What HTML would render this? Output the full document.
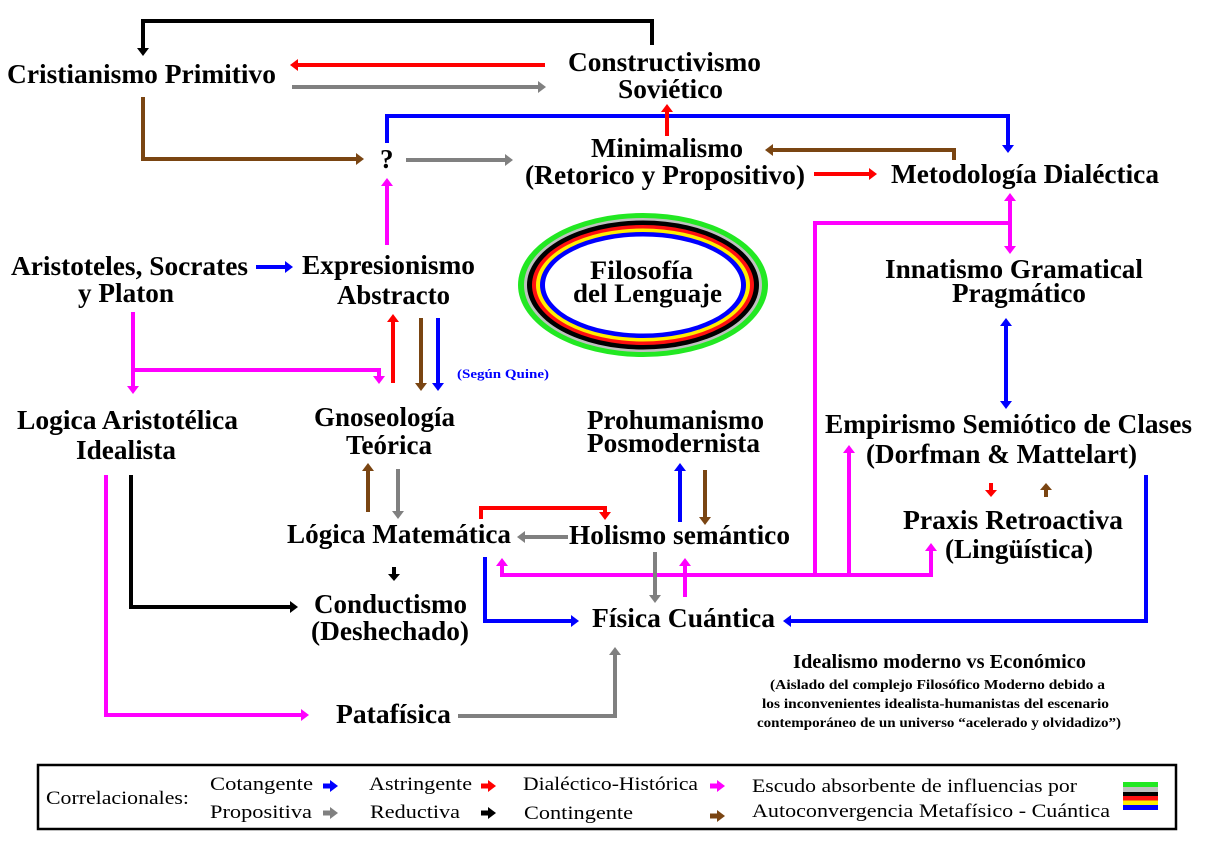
<!DOCTYPE html>
<html>
<head>
<meta charset="utf-8">
<style>
  html, body { margin: 0; padding: 0; background: #fff; }
  svg { display: block; }
  .t { font-family: "Liberation Serif", "Times New Roman", Times, serif; font-weight: bold; font-size: 27px; fill: #000; }
  .s { font-family: "Liberation Serif", "Times New Roman", Times, serif; font-weight: bold; font-size: 14px; fill: #000; }
  .lg { font-family: "Liberation Serif", "Times New Roman", Times, serif; font-weight: normal; font-size: 19px; fill: #000; }
  .ln { fill: none; stroke-width: 4; stroke-linejoin: miter; stroke-linecap: butt; }
</style>
</head>
<body>
<svg width="1213" height="864" viewBox="0 0 1213 864" xmlns="http://www.w3.org/2000/svg">
<rect x="0" y="0" width="1213" height="864" fill="#fff"/>

<!-- Ellipse shield -->
<ellipse cx="643" cy="285" rx="125" ry="72" fill="#22e822"/>
<ellipse cx="643" cy="285" rx="119" ry="67" fill="#c0c0c0"/>
<ellipse cx="643" cy="285" rx="116" ry="64.5" fill="#000"/>
<ellipse cx="643" cy="285" rx="111" ry="60" fill="#ff1010"/>
<ellipse cx="643" cy="285" rx="107" ry="56.5" fill="#ffee00"/>
<ellipse cx="643" cy="285" rx="103" ry="53" fill="#0000ff"/>
<ellipse cx="643" cy="285" rx="98" ry="48.5" fill="#fff"/>

<!-- ===== Connectors ===== -->
<polyline class="ln" stroke="#000" points="652,45 652,21 143,21 143,49"/>
<polygon fill="#000" points="143,56 137,48 149,48"/>
<line class="ln" stroke="#f00" x1="545" y1="65" x2="297" y2="65"/>
<polygon fill="#f00" points="290,65 298,59 298,71"/>
<line class="ln" stroke="#808080" x1="292" y1="87" x2="539" y2="87"/>
<polygon fill="#808080" points="546,87 538,81 538,93"/>
<polyline class="ln" stroke="#00f" points="387,143 387,116 1008,116 1008,146"/>
<polygon fill="#00f" points="1008,153 1002,145 1014,145"/>
<line class="ln" stroke="#f00" x1="667" y1="136" x2="667" y2="111"/>
<polygon fill="#f00" points="667,104 661,112 673,112"/>
<polyline class="ln" stroke="#7a4512" points="143,97 143,159 357,159"/>
<polygon fill="#7a4512" points="364,159 356,153 356,165"/>
<line class="ln" stroke="#808080" x1="406" y1="160" x2="506" y2="160"/>
<polygon fill="#808080" points="513,160 505,154 505,166"/>
<polyline class="ln" stroke="#7a4512" points="954,160 954,150 772,150"/>
<polygon fill="#7a4512" points="765,150 773,144 773,156"/>
<line class="ln" stroke="#f00" x1="814" y1="174" x2="870" y2="174"/>
<polygon fill="#f00" points="877,174 869,168 869,180"/>
<line class="ln" stroke="#f0f" x1="387" y1="245" x2="387" y2="185"/>
<polygon fill="#f0f" points="387,178 381,186 393,186"/>
<line class="ln" stroke="#00f" x1="256" y1="267" x2="286" y2="267"/>
<polygon fill="#00f" points="293,267 285,261 285,273"/>
<line class="ln" stroke="#f0f" x1="1010" y1="200" x2="1010" y2="247"/>
<polygon fill="#f0f" points="1010,193 1004,201 1016,201"/>
<polygon fill="#f0f" points="1010,254 1004,246 1016,246"/>
<polyline class="ln" stroke="#f0f" points="1010,223 815,223 815,577"/>
<line class="ln" stroke="#00f" x1="1006" y1="325" x2="1006" y2="402"/>
<polygon fill="#00f" points="1006,318 1000,326 1012,326"/>
<polygon fill="#00f" points="1006,409 1000,401 1012,401"/>
<line class="ln" stroke="#f0f" x1="133" y1="312" x2="133" y2="387"/>
<polygon fill="#f0f" points="133,394 127,386 139,386"/>
<polyline class="ln" stroke="#f0f" points="133,370 379,370 379,377"/>
<polygon fill="#f0f" points="379,384 373,376 385,376"/>
<line class="ln" stroke="#f00" x1="393" y1="383" x2="393" y2="321"/>
<polygon fill="#f00" points="393,314 387,322 399,322"/>
<line class="ln" stroke="#7a4512" x1="421" y1="318" x2="421" y2="384"/>
<polygon fill="#7a4512" points="421,391 415,383 427,383"/>
<line class="ln" stroke="#00f" x1="438" y1="318" x2="438" y2="384"/>
<polygon fill="#00f" points="438,391 432,383 444,383"/>
<line class="ln" stroke="#7a4512" x1="368" y1="512" x2="368" y2="470"/>
<polygon fill="#7a4512" points="368,463 362,471 374,471"/>
<line class="ln" stroke="#808080" x1="398" y1="469" x2="398" y2="512"/>
<polygon fill="#808080" points="398,519 392,511 404,511"/>
<polyline class="ln" stroke="#f00" points="481,519 481,508 605,508 605,513"/>
<polygon fill="#f00" points="605,520 599,512 611,512"/>
<line class="ln" stroke="#808080" x1="568" y1="537" x2="524" y2="537"/>
<polygon fill="#808080" points="517,537 525,531 525,543"/>
<line class="ln" stroke="#00f" x1="680" y1="522" x2="680" y2="470"/>
<polygon fill="#00f" points="680,463 674,471 686,471"/>
<line class="ln" stroke="#7a4512" x1="705" y1="470" x2="705" y2="518"/>
<polygon fill="#7a4512" points="705,525 699,517 711,517"/>
<line stroke="#000" stroke-width="4" x1="394" y1="567" x2="394" y2="575"/>
<polygon fill="#000" points="394,581 388,574 400,574"/>
<polyline class="ln" stroke="#000" points="131,475 131,607 291,607"/>
<polygon fill="#000" points="298,607 290,601 290,613"/>
<polyline class="ln" stroke="#f0f" points="106,475 106,715 302,715"/>
<polygon fill="#f0f" points="309,715 301,709 301,721"/>
<polyline class="ln" stroke="#00f" points="485,557 485,621 572,621"/>
<polygon fill="#00f" points="579,621 571,615 571,627"/>
<polyline class="ln" stroke="#f0f" points="502,565 502,575 931,575 931,550"/>
<polygon fill="#f0f" points="502,558 496,566 508,566"/>
<polygon fill="#f0f" points="931,543 925,551 937,551"/>
<line class="ln" stroke="#f0f" x1="849" y1="575" x2="849" y2="452"/>
<polygon fill="#f0f" points="849,445 843,453 855,453"/>
<line class="ln" stroke="#f0f" x1="685" y1="597" x2="685" y2="565"/>
<polygon fill="#f0f" points="685,558 679,566 691,566"/>
<line class="ln" stroke="#808080" x1="655" y1="552" x2="655" y2="596"/>
<polygon fill="#808080" points="655,603 649,595 661,595"/>
<polyline class="ln" stroke="#00f" points="1146,475 1146,621 790,621"/>
<polygon fill="#00f" points="783,621 791,615 791,627"/>
<polyline class="ln" stroke="#808080" points="458,716 615,716 615,654"/>
<polygon fill="#808080" points="615,647 609,655 621,655"/>
<line stroke="#f00" stroke-width="4" x1="991" y1="483" x2="991" y2="491"/>
<polygon fill="#f00" points="991,497 985,490 997,490"/>
<line stroke="#7a4512" stroke-width="4" x1="1046" y1="497" x2="1046" y2="489"/>
<polygon fill="#7a4512" points="1046,483 1040,490 1052,490"/>

<!-- ===== Labels ===== -->
<text class="t" x="7" y="83" textLength="269" lengthAdjust="spacingAndGlyphs">Cristianismo Primitivo</text>
<text class="t" x="568" y="71" textLength="193" lengthAdjust="spacingAndGlyphs">Constructivismo</text>
<text class="t" x="618" y="98" textLength="105" lengthAdjust="spacingAndGlyphs">Soviético</text>
<text class="t" x="380" y="168">?</text>
<text class="t" x="591" y="157" textLength="152" lengthAdjust="spacingAndGlyphs">Minimalismo</text>
<text class="t" x="525" y="184" textLength="280" lengthAdjust="spacingAndGlyphs">(Retorico y Propositivo)</text>
<text class="t" x="891" y="183" textLength="268" lengthAdjust="spacingAndGlyphs">Metodología Dialéctica</text>
<text class="t" x="11" y="275" textLength="237" lengthAdjust="spacingAndGlyphs">Aristoteles, Socrates</text>
<text class="t" x="78" y="302" textLength="96" lengthAdjust="spacingAndGlyphs">y Platon</text>
<text class="t" x="302" y="274" textLength="173" lengthAdjust="spacingAndGlyphs">Expresionismo</text>
<text class="t" x="337" y="304" textLength="113" lengthAdjust="spacingAndGlyphs">Abstracto</text>
<text class="t" x="590" y="279" style="font-size:26px" textLength="103" lengthAdjust="spacingAndGlyphs">Filosofía</text>
<text class="t" x="573" y="302" style="font-size:26px" textLength="149" lengthAdjust="spacingAndGlyphs">del Lenguaje</text>
<text class="t" x="885" y="278" textLength="258" lengthAdjust="spacingAndGlyphs">Innatismo Gramatical</text>
<text class="t" x="952" y="302" textLength="134" lengthAdjust="spacingAndGlyphs">Pragmático</text>
<text class="s" x="457" y="378" style="fill:#0000ff;font-size:13px" textLength="92" lengthAdjust="spacingAndGlyphs">(Según Quine)</text>
<text class="t" x="17" y="429" textLength="221" lengthAdjust="spacingAndGlyphs">Logica Aristotélica</text>
<text class="t" x="76" y="459" textLength="100" lengthAdjust="spacingAndGlyphs">Idealista</text>
<text class="t" x="314" y="426" textLength="141" lengthAdjust="spacingAndGlyphs">Gnoseología</text>
<text class="t" x="346" y="454" textLength="86" lengthAdjust="spacingAndGlyphs">Teórica</text>
<text class="t" x="587" y="429" textLength="177" lengthAdjust="spacingAndGlyphs">Prohumanismo</text>
<text class="t" x="587" y="452" textLength="173" lengthAdjust="spacingAndGlyphs">Posmodernista</text>
<text class="t" x="825" y="433" textLength="367" lengthAdjust="spacingAndGlyphs">Empirismo Semiótico de Clases</text>
<text class="t" x="866" y="463" textLength="271" lengthAdjust="spacingAndGlyphs">(Dorfman &amp; Mattelart)</text>
<text class="t" x="903" y="529" textLength="220" lengthAdjust="spacingAndGlyphs">Praxis Retroactiva</text>
<text class="t" x="945" y="558" textLength="148" lengthAdjust="spacingAndGlyphs">(Lingüística)</text>
<text class="t" x="287" y="543" textLength="224" lengthAdjust="spacingAndGlyphs">Lógica Matemática</text>
<text class="t" x="569" y="544" textLength="221" lengthAdjust="spacingAndGlyphs">Holismo semántico</text>
<text class="t" x="314" y="613" textLength="153" lengthAdjust="spacingAndGlyphs">Conductismo</text>
<text class="t" x="311" y="640" textLength="158" lengthAdjust="spacingAndGlyphs">(Deshechado)</text>
<text class="t" x="592" y="627" textLength="183" lengthAdjust="spacingAndGlyphs">Física Cuántica</text>
<text class="t" x="336" y="723" textLength="115" lengthAdjust="spacingAndGlyphs">Patafísica</text>

<text class="t" x="793" y="668" style="font-size:20px" textLength="293" lengthAdjust="spacingAndGlyphs">Idealismo moderno vs Económico</text>
<text class="s" x="770" y="689" textLength="335" lengthAdjust="spacingAndGlyphs">(Aislado del complejo Filosófico Moderno debido a</text>
<text class="s" x="762" y="708" textLength="347" lengthAdjust="spacingAndGlyphs">los inconvenientes idealista-humanistas del escenario</text>
<text class="s" x="757" y="727" textLength="364" lengthAdjust="spacingAndGlyphs">contemporáneo de un universo “acelerado y olvidadizo”)</text>

<!-- ===== Legend ===== -->
<rect x="38" y="765" width="1138" height="64" fill="none" stroke="#000" stroke-width="2.5"/>
<text class="lg" x="46" y="804" textLength="143" lengthAdjust="spacingAndGlyphs">Correlacionales:</text>
<text class="lg" x="210" y="790" textLength="103" lengthAdjust="spacingAndGlyphs">Cotangente</text>
<text class="lg" x="369" y="790" textLength="103" lengthAdjust="spacingAndGlyphs">Astringente</text>
<text class="lg" x="523" y="790" textLength="175" lengthAdjust="spacingAndGlyphs">Dialéctico-Histórica</text>
<text class="lg" x="752" y="792" textLength="325" lengthAdjust="spacingAndGlyphs">Escudo absorbente de influencias por</text>
<text class="lg" x="210" y="818" textLength="102" lengthAdjust="spacingAndGlyphs">Propositiva</text>
<text class="lg" x="370" y="818" textLength="90" lengthAdjust="spacingAndGlyphs">Reductiva</text>
<text class="lg" x="524" y="819" textLength="109" lengthAdjust="spacingAndGlyphs">Contingente</text>
<text class="lg" x="752" y="817" textLength="358" lengthAdjust="spacingAndGlyphs">Autoconvergencia Metafísico - Cuántica</text>

<g>
  <rect x="323" y="783.5" width="8" height="5" fill="#00f"/><polygon fill="#00f" points="330,780 338,786 330,792"/>
  <rect x="481" y="783.5" width="8" height="5" fill="#f00"/><polygon fill="#f00" points="488,780 496,786 488,792"/>
  <rect x="710" y="783.5" width="8" height="5" fill="#f0f"/><polygon fill="#f0f" points="717,780 725,786 717,792"/>
  <rect x="323" y="810.5" width="8" height="5" fill="#808080"/><polygon fill="#808080" points="330,807 338,813 330,819"/>
  <rect x="481" y="810.5" width="8" height="5" fill="#000"/><polygon fill="#000" points="488,807 496,813 488,819"/>
  <rect x="710" y="813.5" width="8" height="5" fill="#7a4512"/><polygon fill="#7a4512" points="717,810 725,816 717,822"/>
</g>
<rect x="1123" y="782" width="35" height="5" fill="#22e822"/>
<rect x="1123" y="787" width="35" height="5" fill="#c0c0c0"/>
<rect x="1123" y="792" width="35" height="4" fill="#000"/>
<rect x="1123" y="796" width="35" height="4.5" fill="#ff1010"/>
<rect x="1123" y="800.5" width="35" height="4.5" fill="#ffee00"/>
<rect x="1123" y="805" width="35" height="5" fill="#0000ff"/>
</svg>
</body>
</html>
